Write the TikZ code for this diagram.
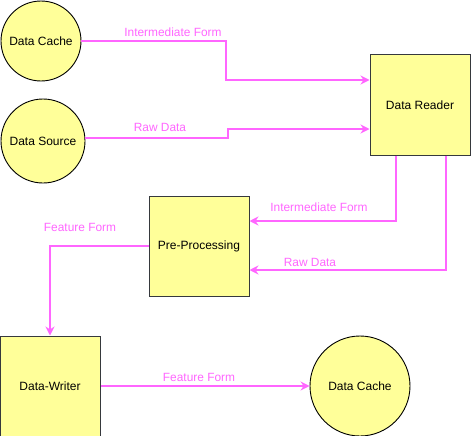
\documentclass[tikz,border=0pt]{standalone}
\usepackage{fontspec}
\setmainfont{Liberation Sans}
\usetikzlibrary{arrows.meta}
\definecolor{fillY}{HTML}{FFFF99}
\definecolor{edgeM}{HTML}{FF66FF}
\definecolor{boxS}{HTML}{36393D}
\begin{document}
\begin{tikzpicture}[x=1pt,y=-1pt,
  circnode/.style={circle,draw=black,fill=fillY,line width=0.9pt,inner sep=0pt,font=\fontsize{12}{14}\selectfont},
  boxnode/.style={rectangle,draw=boxS,fill=fillY,line width=1pt,minimum width=100pt,minimum height=100pt,inner sep=0pt,font=\fontsize{12}{14}\selectfont},
  flow/.style={draw=edgeM,line width=1.6pt,-{Stealth[length=9pt,width=9pt,inset=3pt]}},
  lbl/.style={text=edgeM,font=\fontsize{11.9}{13}\selectfont,inner sep=0pt}]
\useasboundingbox (0,0) rectangle (471,436);
\node[circnode,minimum size=80pt] (dc1) at (41,41) {Data Cache};
\node[circnode,minimum size=84pt] (ds) at (43,141) {Data Source};
\node[boxnode] (dr) at (420,105) {Data Reader};
\node[boxnode] (pp) at (199,246) {Pre-Processing};
\node[boxnode] (dw) at (50,386) {Data-Writer};
\node[circnode,minimum size=100pt] (dc2) at (360,386) {Data Cache};
\coordinate (a1) at (226,41);
\coordinate (a2) at (226,80);
\draw[flow] (dc1.east) -- (a1) -- (a2) -- (dr.west |- a2);
\coordinate (b1) at (228,138);
\coordinate (b2) at (228,129);
\draw[flow] (ds.east |- b1) -- (b1) -- (b2) -- (dr.west |- b2);
\coordinate (c1) at (396,221);
\draw[flow] (dr.south -| c1) -- (c1) -- (pp.east |- c1);
\coordinate (d1) at (446,270);
\draw[flow] (dr.south -| d1) -- (d1) -- (pp.east |- d1);
\coordinate (e1) at (50,246);
\draw[flow] (pp.west) -- (e1) -- (dw.north);
\draw[flow] (dw.east) -- (dc2.west);
\node[lbl] (l1) at (173,32) {Intermediate Form};
\node[lbl] (l2) at (160,127) {Raw Data};
\node[lbl] (l3) at (319,207) {Intermediate Form};
\node[lbl] (l4) at (310,262) {Raw Data};
\node[lbl] (l5) at (80,227) {Feature Form};
\node[lbl] (l6) at (199,377) {Feature Form};
\end{tikzpicture}
\end{document}
